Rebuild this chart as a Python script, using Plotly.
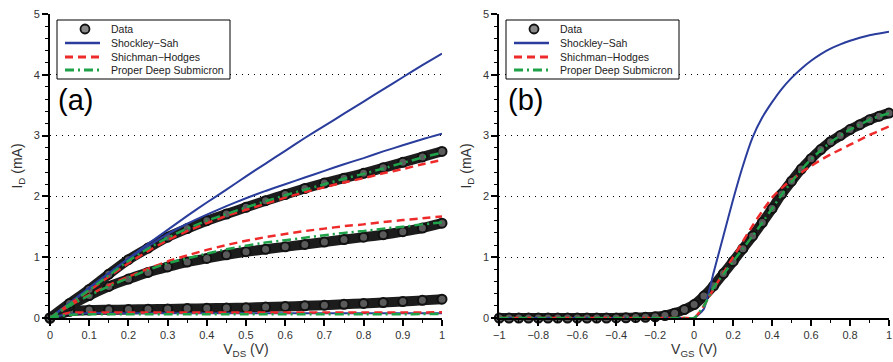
import plotly.graph_objects as go

# ---------------- data: panel (a) Id vs Vds ----------------
vds = [0.0, 0.05, 0.1, 0.15, 0.2, 0.25, 0.3, 0.35, 0.4, 0.45, 0.5,
       0.55, 0.6, 0.65, 0.7, 0.75, 0.8, 0.85, 0.9, 0.95, 1.0]

data_hi = [0, 0.24, 0.47, 0.72, 0.96, 1.15, 1.33, 1.47, 1.60, 1.71, 1.82,
           1.93, 2.03, 2.13, 2.22, 2.30, 2.38, 2.47, 2.56, 2.65, 2.74]
data_mid = [0, 0.20, 0.37, 0.52, 0.64, 0.75, 0.84, 0.92, 0.98, 1.04, 1.09,
            1.13, 1.17, 1.21, 1.25, 1.29, 1.33, 1.37, 1.42, 1.48, 1.56]
data_lo = [0, 0.11, 0.13, 0.135, 0.14, 0.145, 0.15, 0.155, 0.16, 0.165, 0.17,
           0.18, 0.19, 0.20, 0.21, 0.225, 0.24, 0.255, 0.27, 0.29, 0.31]

ss_hi = [0, 0.25, 0.50, 0.74, 0.98, 1.22, 1.45, 1.68, 1.90, 2.11, 2.33,
         2.54, 2.75, 2.96, 3.16, 3.36, 3.56, 3.76, 3.96, 4.16, 4.35]
ss_mid = [0, 0.24, 0.48, 0.73, 0.97, 1.18, 1.38, 1.55, 1.70, 1.84, 1.97,
          2.09, 2.20, 2.31, 2.42, 2.53, 2.63, 2.74, 2.84, 2.94, 3.03]
ss_lo = [0, 0.07, 0.08, 0.08, 0.08, 0.08, 0.08, 0.08, 0.08, 0.08, 0.08,
         0.08, 0.08, 0.08, 0.08, 0.08, 0.08, 0.08, 0.08, 0.08, 0.08]

sh_hi = [0, 0.23, 0.45, 0.68, 0.90, 1.10, 1.28, 1.43, 1.56, 1.68, 1.78,
         1.88, 1.98, 2.07, 2.15, 2.23, 2.30, 2.38, 2.45, 2.53, 2.60]
sh_mid = [0, 0.20, 0.38, 0.54, 0.68, 0.81, 0.93, 1.03, 1.12, 1.20, 1.27,
          1.33, 1.38, 1.43, 1.47, 1.51, 1.54, 1.58, 1.61, 1.64, 1.67]
sh_lo = [0, 0.085, 0.09, 0.09, 0.09, 0.09, 0.09, 0.09, 0.09, 0.09, 0.09,
         0.09, 0.09, 0.09, 0.09, 0.09, 0.09, 0.09, 0.09, 0.09, 0.095]

pd_hi = [0, 0.23, 0.46, 0.70, 0.94, 1.14, 1.32, 1.47, 1.60, 1.71, 1.82,
         1.92, 2.02, 2.11, 2.20, 2.29, 2.37, 2.46, 2.55, 2.64, 2.72]
pd_mid = [0, 0.20, 0.37, 0.52, 0.66, 0.79, 0.90, 0.98, 1.06, 1.13, 1.19,
          1.24, 1.28, 1.32, 1.36, 1.40, 1.43, 1.47, 1.50, 1.54, 1.57]
pd_lo = [0, 0.055, 0.06, 0.06, 0.06, 0.06, 0.06, 0.06, 0.06, 0.06, 0.06,
         0.06, 0.06, 0.06, 0.06, 0.06, 0.06, 0.06, 0.06, 0.065, 0.065]

# ---------------- data: panel (b) Id vs Vgs ----------------
vgs = [-1.0, -0.95, -0.9, -0.85, -0.8, -0.75, -0.7, -0.65, -0.6, -0.55, -0.5,
       -0.45, -0.4, -0.35, -0.3, -0.25, -0.2, -0.15, -0.1, -0.05, 0.0,
       0.05, 0.1, 0.15, 0.2, 0.25, 0.3, 0.35, 0.4, 0.45, 0.5,
       0.55, 0.6, 0.65, 0.7, 0.75, 0.8, 0.85, 0.9, 0.95, 1.0]

data_b = [0, 0, 0, 0, 0, 0, 0, 0, 0, 0, 0,
          0, 0.002, 0.004, 0.007, 0.012, 0.02, 0.04, 0.08, 0.14, 0.22,
          0.36, 0.53, 0.73, 0.93, 1.14, 1.35, 1.57, 1.80, 2.04, 2.25,
          2.45, 2.62, 2.77, 2.90, 3.00, 3.10, 3.18, 3.26, 3.32, 3.37]
ss_b = [0, 0, 0, 0, 0, 0, 0, 0, 0, 0, 0,
        0, 0, 0, 0, 0, 0, 0, 0, 0, 0,
        0.15, 0.75, 1.35, 1.95, 2.50, 2.97, 3.30, 3.55, 3.77, 3.95,
        4.10, 4.23, 4.34, 4.43, 4.50, 4.56, 4.61, 4.65, 4.68, 4.71]
sh_b = [0, 0, 0, 0, 0, 0, 0, 0, 0, 0, 0,
        0, 0, 0, 0, 0, 0, 0, 0, 0, 0,
        0.20, 0.48, 0.74, 1.00, 1.26, 1.52, 1.76, 1.98, 2.14, 2.27,
        2.39, 2.50, 2.60, 2.69, 2.77, 2.85, 2.93, 3.01, 3.08, 3.15]
pd_b = [0, 0, 0, 0, 0, 0, 0, 0, 0, 0, 0,
        0, 0, 0, 0, 0, 0, 0, 0, 0, 0,
        0.20, 0.50, 0.72, 0.93, 1.14, 1.35, 1.57, 1.80, 2.03, 2.24,
        2.44, 2.61, 2.76, 2.89, 3.00, 3.10, 3.18, 3.26, 3.32, 3.37]

names = ["Data", "Shockley\u2212Sah", "Shichman\u2212Hodges", "Proper Deep Submicron"]
BLUE = "#2a3d9c"
RED = "#ee2a2a"
GREEN = "#1fa24a"
COLS = [BLUE, RED, GREEN]
DASHES = ["solid", "8px,5px", "9px,4px,2px,4px"]
WIDTHS = [2, 2.5, 2.5]
FONT = "Arial, Liberation Sans, sans-serif"
MK_FILL = "#5a5a5a"

fig = go.Figure()


def add_data(x, y, xa, ya):
    fig.add_trace(go.Scatter(x=x, y=y, xaxis=xa, yaxis=ya, mode="lines",
                             line=dict(color="#1c1c1c", width=10, shape="spline", smoothing=0.6),
                             showlegend=False, cliponaxis=False, hoverinfo="skip"))
    fig.add_trace(go.Scatter(x=x, y=y, xaxis=xa, yaxis=ya, mode="markers",
                             marker=dict(size=9, color=MK_FILL, line=dict(color="#111", width=2)),
                             name=names[0], showlegend=False, cliponaxis=False))


def add_model(x, y, xa, ya, kind):
    fig.add_trace(go.Scatter(x=x, y=y, xaxis=xa, yaxis=ya, mode="lines",
                             line=dict(color=COLS[kind], width=WIDTHS[kind], dash=DASHES[kind],
                                       shape="spline", smoothing=0.5),
                             name=names[kind + 1], showlegend=False, cliponaxis=False))


# panel (a)
for y in (data_lo, data_mid, data_hi):
    add_data(vds, y, "x", "y")
for k, series in enumerate([(ss_lo, ss_mid, ss_hi), (sh_lo, sh_mid, sh_hi), (pd_lo, pd_mid, pd_hi)]):
    for y in series:
        add_model(vds, y, "x", "y", k)

# panel (b)
add_data(vgs, data_b, "x2", "y2")
add_model(vgs, ss_b, "x2", "y2", 0)
add_model(vgs, sh_b, "x2", "y2", 1)
add_model(vgs, pd_b, "x2", "y2", 2)

W, H = 893, 362
yd = [1 - 318 / H, 1 - 14 / H]


def px(xp):
    return xp / W


def py(yp):
    return 1 - yp / H


common_y = dict(range=[0, 5], domain=yd, showline=True, linecolor="black", linewidth=2,
                ticks="outside", ticklen=6, tickwidth=1.5, tickcolor="black", dtick=1,
                minor=dict(dtick=0.2, ticks="outside", ticklen=3, tickcolor="black", tickwidth=1.2),
                showgrid=True, gridcolor="black", gridwidth=1, griddash="1px,5px",
                zeroline=False, automargin=False, ticklabeloverflow="allow",
                tickfont=dict(size=11, color="#333", family=FONT),
                title=dict(text="I<sub>D</sub> (mA)", font=dict(size=14, color="#333", family=FONT), standoff=8))
common_x = dict(showline=True, linecolor="black", linewidth=2, ticks="outside", ticklen=6,
                tickwidth=1.5, tickcolor="black", showgrid=False, zeroline=False, automargin=False,
                ticklabeloverflow="allow",
                tickfont=dict(size=11, color="#333", family=FONT))

# ---- legend boxes (drawn as shapes + text, matching the compact reference legend) ----
shapes = []
annotations = []
for x0 in (57, 506):
    shapes.append(dict(type="rect", xref="paper", yref="paper", x0=px(x0), x1=px(x0 + 173),
                       y0=py(79), y1=py(20), line=dict(color="black", width=1), fillcolor="white",
                       layer="above"))
    rows = [29, 43, 57, 70]
    cx, cy, r = x0 + 28, rows[0], 4.5
    shapes.append(dict(type="circle", xref="paper", yref="paper", x0=px(cx - r), x1=px(cx + r),
                       y0=py(cy + r), y1=py(cy - r), fillcolor="#8a8a8a",
                       line=dict(color="#111", width=1.8), layer="above"))
    for k in range(3):
        yy = rows[k + 1]
        shapes.append(dict(type="line", xref="paper", yref="paper", x0=px(x0 + 8), x1=px(x0 + 43),
                           y0=py(yy), y1=py(yy), layer="above",
                           line=dict(color=COLS[k], width=WIDTHS[k] + 0.5, dash=DASHES[k])))
    for i, nm in enumerate(names):
        annotations.append(dict(text=nm, x=px(x0 + 52), y=py(rows[i]), xref="paper", yref="paper",
                                xanchor="left", yanchor="middle", showarrow=False,
                                font=dict(size=10.5, color="#222", family=FONT)))

annotations += [
    dict(text="(a)", x=px(56), y=py(100), xref="paper", yref="paper", xanchor="left",
         yanchor="middle", showarrow=False, font=dict(size=29, color="black", family=FONT)),
    dict(text="(b)", x=px(506), y=py(100), xref="paper", yref="paper", xanchor="left",
         yanchor="middle", showarrow=False, font=dict(size=29, color="black", family=FONT)),
]

fig.update_layout(
    width=W, height=H, margin=dict(l=0, r=0, t=0, b=0, autoexpand=False),
    paper_bgcolor="white", plot_bgcolor="white",
    font=dict(family=FONT), showlegend=False,
    xaxis=dict(common_x, domain=[px(50), px(442)], range=[0, 1], dtick=0.1, anchor="y",
               minor=dict(dtick=0.05, ticks="outside", ticklen=3, tickcolor="black", tickwidth=1.2),
               title=dict(text="V<sub>DS</sub> (V)", font=dict(size=14, color="#333", family=FONT), standoff=3)),
    yaxis=dict(common_y, anchor="x"),
    xaxis2=dict(common_x, domain=[px(499.3), px(889)], range=[-1, 1], dtick=0.2, anchor="y2",
                minor=dict(dtick=0.1, ticks="outside", ticklen=3, tickcolor="black", tickwidth=1.2),
                title=dict(text="V<sub>GS</sub> (V)", font=dict(size=14, color="#333", family=FONT), standoff=3)),
    yaxis2=dict(common_y, anchor="x2"),
    shapes=shapes,
    annotations=annotations,
)

fig.write_html("out.html")
